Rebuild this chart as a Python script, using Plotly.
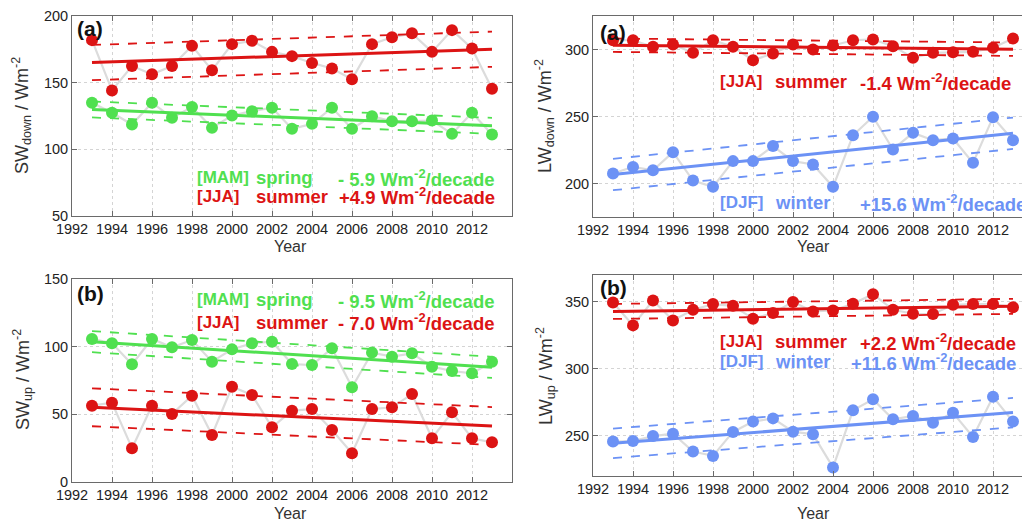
import plotly.graph_objects as go

years = list(range(1993, 2014))

# (a) SW down
swd_jja = [181.9, 144.2, 162.5, 156.3, 162.5, 177.6, 159.3, 178.9, 181.4, 173.1, 169.9,
           164.8, 160.6, 152.5, 178.9, 184.0, 187.0, 173.1, 189.4, 175.6, 145.5]
swd_mam = [135.0, 127.4, 118.6, 135.0, 123.7, 131.7, 116.1, 125.4, 128.6, 131.2, 115.4,
           119.1, 131.2, 115.4, 124.9, 121.1, 121.1, 121.6, 111.6, 127.4, 111.1]
# (a) LW down
lwd_jja = [306.9, 306.9, 302.0, 303.7, 297.5, 306.9, 302.0, 292.0, 297.0, 303.7, 300.0,
           303.0, 306.9, 307.5, 302.5, 293.8, 297.5, 298.0, 298.3, 301.3, 308.2]
lwd_djf = [207.5, 212.4, 209.9, 223.4, 202.2, 197.5, 216.7, 216.7, 227.9, 216.7, 214.2,
           197.5, 236.0, 249.8, 225.4, 237.8, 232.3, 233.6, 215.4, 249.5, 232.3]
# (b) SW up
swu_mam = [105.7, 102.5, 87.0, 105.7, 99.5, 104.9, 88.9, 98.0, 102.5, 103.7, 87.2,
           86.4, 98.8, 70.0, 95.6, 92.6, 95.1, 85.2, 82.0, 80.3, 88.9]
swu_jja = [56.4, 58.6, 25.0, 56.4, 50.2, 63.8, 34.7, 70.4, 64.3, 40.4, 52.7,
           53.9, 38.4, 21.2, 53.9, 55.2, 65.0, 32.3, 51.5, 32.3, 29.3]
# (b) LW up
lwu_jja = [349.5, 332.4, 351.0, 336.1, 344.1, 348.3, 347.0, 337.4, 341.6, 349.8, 342.8,
           343.5, 348.5, 355.7, 344.0, 341.1, 340.9, 347.8, 348.3, 348.3, 346.0]
lwu_djf = [245.7, 246.1, 249.8, 251.6, 238.2, 235.0, 252.9, 260.6, 263.0, 253.1, 251.1,
           226.4, 269.0, 277.2, 262.3, 264.8, 259.8, 267.2, 249.1, 279.1, 260.6]

# trend line values at 1993 and 2013, and half width of the dashed band
swd_jja_trend, swd_jja_band = [165.1, 175.1], 13.2
swd_mam_trend, swd_mam_band = [129.9, 117.6], 6.0
lwd_jja_trend, lwd_jja_band = [303.2, 300.2], 5.0
lwd_djf_trend, lwd_djf_band = [206.7, 237.5], 11.7
swu_mam_trend, swu_mam_band = [103.7, 84.7], 7.8
swu_jja_trend, swu_jja_band = [55.2, 41.4], 14.0
lwu_jja_trend, lwu_jja_band = [342.8, 346.6], 5.6
lwu_djf_trend, lwu_djf_band = [244.4, 267.3], 11.0

xticks = list(range(1992, 2013, 2))

RED = "#dc1414"
GREEN = "#50e050"
BLUE = "#6c92f5"
GREY_LINE = "#dcdcdc"
FONT = "Liberation Sans, Arial, sans-serif"

W, H = 1030, 523
OFF = 8  # page body margin: the figure is drawn 8px right/down

fig = go.Figure()


def add_series(fig, ax, values, trend, band, color):
    xa = "x" + ax
    ya = "y" + ax
    fig.add_scatter(x=years, y=values, mode="lines", xaxis=xa, yaxis=ya,
                    line=dict(color=GREY_LINE, width=2.2), hoverinfo="skip")
    tx = [years[0], years[-1]]
    for off in (band, -band):
        fig.add_scatter(x=tx, y=[t + off for t in trend], mode="lines", xaxis=xa, yaxis=ya,
                        line=dict(color=color, width=1.8, dash="dash"))
    fig.add_scatter(x=tx, y=trend, mode="lines", xaxis=xa, yaxis=ya,
                    line=dict(color=color, width=3))
    fig.add_scatter(x=years, y=values, mode="markers", xaxis=xa, yaxis=ya,
                    marker=dict(color=color, size=12, line=dict(width=0)))


add_series(fig, "", swd_jja, swd_jja_trend, swd_jja_band, RED)
add_series(fig, "", swd_mam, swd_mam_trend, swd_mam_band, GREEN)
add_series(fig, "2", lwd_jja, lwd_jja_trend, lwd_jja_band, RED)
add_series(fig, "2", lwd_djf, lwd_djf_trend, lwd_djf_band, BLUE)
add_series(fig, "3", swu_mam, swu_mam_trend, swu_mam_band, GREEN)
add_series(fig, "3", swu_jja, swu_jja_trend, swu_jja_band, RED)
add_series(fig, "4", lwu_jja, lwu_jja_trend, lwu_jja_band, RED)
add_series(fig, "4", lwu_djf, lwu_djf_trend, lwu_djf_band, BLUE)


def px_x(a, b):
    return [(a - OFF) / W, min((b - OFF) / W, 1.0)]


def px_y(top, bottom):
    return [1 - (bottom - OFF) / H, 1 - (top - OFF) / H]


axis_common = dict(
    showline=True, linecolor="#6a6a6a", linewidth=1, mirror="ticks",
    ticks="inside", ticklen=5, tickcolor="#6a6a6a", automargin=False,
    showgrid=True, gridcolor="#d4d4d4", griddash="dot", gridwidth=1,
    zeroline=False, tickfont=dict(family=FONT, size=14.5, color="#222"),
)

panels = [
    # suffix, x pixels, y pixels, y range, y ticks
    ("", (72, 512), (16, 216), [50, 200], [50, 100, 150, 200]),
    ("2", (593, 1033), (16, 217), [175, 325], [200, 250, 300]),
    ("3", (72, 512), (279, 482), [0, 150], [0, 50, 100, 150]),
    ("4", (593, 1033), (275, 476), [220, 370], [250, 300, 350]),
]

layout = {}
for suf, (xl, xr), (yt, yb), yr, yt_vals in panels:
    dom = px_x(xl, xr)
    x_end = 1992 + (dom[1] - dom[0]) * W / 20.0
    layout["xaxis" + suf] = dict(axis_common, domain=dom, range=[1992, x_end],
                                 tickvals=xticks, anchor="y" + suf)
    layout["yaxis" + suf] = dict(axis_common, domain=px_y(yt, yb), range=yr,
                                 tickvals=yt_vals, anchor="x" + suf)

fig.update_layout(**layout)

ann = []


def txt(text, x, y, ax, color, anchor="left", size=18.5):
    ann.append(dict(text="<b>%s</b>" % text, x=x, y=y,
                    xref="x" + ax, yref="y" + ax, xanchor=anchor, yanchor="middle",
                    showarrow=False, font=dict(family=FONT, size=size, color=color)))


wm = "Wm<sup>-2</sup>/decade"
# top-left
txt("[MAM]", 1998.15, 78.7, "", GREEN, size=17)
txt("spring", 2001.1, 78.7, "", GREEN)
txt("- 5.9 " + wm, 2013.25, 78.7, "", GREEN, "right")
txt("[JJA]", 1998.15, 65.0, "", RED, size=17)
txt("summer", 2001.1, 65.0, "", RED)
txt("+4.9 " + wm, 2013.25, 65.0, "", RED, "right")
# top-right
txt("[JJA]", 1998.25, 276.0, "2", RED, size=17)
txt("summer", 2001.0, 276.0, "2", RED)
txt("-1.4 " + wm, 2005.25, 276.0, "2", RED)
txt("[DJF]", 1998.25, 185.8, "2", BLUE, size=17)
txt("winter", 2001.0, 185.8, "2", BLUE)
txt("+15.6 " + wm, 2005.25, 185.8, "2", BLUE)
# bottom-left
txt("[MAM]", 1998.15, 134.5, "3", GREEN, size=17)
txt("spring", 2001.1, 134.5, "3", GREEN)
txt("- 9.5 " + wm, 2013.25, 134.5, "3", GREEN, "right")
txt("[JJA]", 1998.15, 118.2, "3", RED, size=17)
txt("summer", 2001.1, 118.2, "3", RED)
txt("- 7.0 " + wm, 2013.25, 118.2, "3", RED, "right")
# bottom-right
txt("[JJA]", 1998.25, 320.1, "4", RED, size=17)
txt("summer", 2001.0, 320.1, "4", RED)
txt("+2.2 " + wm, 2013.25, 320.1, "4", RED, "right")
txt("[DJF]", 1998.25, 305.2, "4", BLUE, size=17)
txt("winter", 2001.0, 305.2, "4", BLUE)
txt("+11.6 " + wm, 2013.25, 305.2, "4", BLUE, "right")

# panel letters
for letter, suf, fx, fy in [("(a)", "", 0.007, 0.94), ("(a)", "2", 0.011, 0.92),
                            ("(b)", "3", 0.007, 0.931), ("(b)", "4", 0.011, 0.94)]:
    ann.append(dict(text="<b>%s</b>" % letter, x=fx, y=fy,
                    xref="x%s domain" % suf, yref="y%s domain" % suf,
                    xanchor="left", yanchor="middle", showarrow=False,
                    font=dict(family=FONT, size=21, color="#111")))

# axis titles
for label, px, py in [("SW<sub>down</sub> / Wm<sup>-2</sup>", 22, 116),
                      ("LW<sub>down</sub> / Wm<sup>-2</sup>", 545, 116),
                      ("SW<sub>up</sub> / Wm<sup>-2</sup>", 22, 380),
                      ("LW<sub>up</sub> / Wm<sup>-2</sup>", 545, 376)]:
    ann.append(dict(text=label, x=(px - OFF) / W, y=1 - (py - OFF) / H,
                    xref="paper", yref="paper",
                    textangle=-90, xanchor="center", yanchor="middle", showarrow=False,
                    font=dict(family=FONT, size=18, color="#333")))

for px, py in [(290, 247), (813, 247), (290, 513), (813, 513)]:
    ann.append(dict(text="Year", x=(px - OFF) / W, y=1 - (py - OFF) / H,
                    xref="paper", yref="paper",
                    xanchor="center", yanchor="middle", showarrow=False,
                    font=dict(family=FONT, size=16, color="#333")))

fig.update_layout(
    annotations=ann,
    width=W, height=H,
    margin=dict(l=0, r=0, t=0, b=0, pad=0),
    paper_bgcolor="white", plot_bgcolor="white",
    showlegend=False,
)

fig.write_html("out.html")
